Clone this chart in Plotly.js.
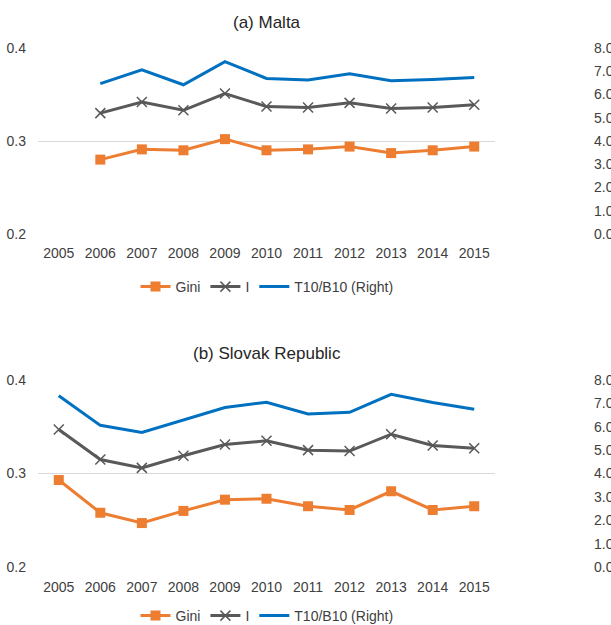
<!DOCTYPE html>
<html>
<head>
<meta charset="utf-8">
<script src="https://cdn.plot.ly/plotly-3.0.1.min.js"></script>
<style>html,body{margin:0;padding:0;background:#fff;}#chart{width:611px;height:625px;}</style>
</head>
<body>
<div id="chart"></div>
<script>
const years = ['2005','2006','2007','2008','2009','2010','2011','2012','2013','2014','2015'];

const maltaGini = [null, 0.280, 0.291, 0.290, 0.302, 0.290, 0.291, 0.294, 0.287, 0.290, 0.294];
const maltaI    = [null, 0.330, 0.342, 0.333, 0.351, 0.337, 0.336, 0.341, 0.335, 0.336, 0.339];
const maltaT10  = [null, 6.47, 7.06, 6.42, 7.41, 6.69, 6.62, 6.89, 6.59, 6.65, 6.73];

const slovakGini = [0.293, 0.258, 0.247, 0.260, 0.272, 0.273, 0.265, 0.261, 0.281, 0.261, 0.265];
const slovakI    = [0.347, 0.315, 0.306, 0.319, 0.331, 0.335, 0.325, 0.324, 0.342, 0.330, 0.327];
const slovakT10  = [7.33, 6.06, 5.76, 6.28, 6.82, 7.05, 6.55, 6.62, 7.39, 7.04, 6.75];

const seriesNames = ['Gini', 'I', 'T10/B10 (Right)'];
const panelTitles = ['(a) Malta', '(b) Slovak Republic'];
const leftTicks = [0.2, 0.3, 0.4];
const rightTicks = [0, 1, 2, 3, 4, 5, 6, 7, 8];

const ORANGE = '#ED7D31', GRAY = '#595959', BLUE = '#0070C0';
const FONT = 'Liberation Sans, Arial, Helvetica, sans-serif';
const TXT = '#404040';

function panel(gini, iv, t10, xa, ya, yb, leg) {
  return [
    {x: years, y: t10, name: seriesNames[2], type: 'scatter', mode: 'lines',
     xaxis: xa, yaxis: yb, legend: leg, line: {color: BLUE, width: 3}, connectgaps: false, legendrank: 3},
    {x: years, y: iv, name: seriesNames[1], type: 'scatter', mode: 'lines+markers',
     xaxis: xa, yaxis: ya, legend: leg, line: {color: GRAY, width: 3},
     marker: {symbol: 'x-thin-open', size: 10, color: GRAY, line: {color: GRAY, width: 1.5}}, legendrank: 2},
    {x: years, y: gini, name: seriesNames[0], type: 'scatter', mode: 'lines+markers',
     xaxis: xa, yaxis: ya, legend: leg, line: {color: ORANGE, width: 3},
     marker: {symbol: 'square', size: 10, color: ORANGE}, legendrank: 1}
  ];
}

const data = [].concat(
  panel(maltaGini, maltaI, maltaT10, 'x', 'y', 'y2', 'legend'),
  panel(slovakGini, slovakI, slovakT10, 'x2', 'y3', 'y4', 'legend2')
);

const H = 625;
const xDom = [0, 457/553];
function fy(px) { return 1 - px / H; }

const xBase = {
  type: 'category', categoryorder: 'array', categoryarray: years, range: [-0.5, 10.5],
  domain: xDom, showgrid: false, zeroline: false, showline: false, ticks: '', automargin: false,
  tickfont: {family: FONT, size: 14, color: TXT}, ticklabelstandoff: 9, fixedrange: true
};
const yLeft = {
  range: [0.2, 0.4], tickvals: leftTicks, tickformat: '.1f', showgrid: true, automargin: false,
  gridcolor: '#D9D9D9', gridwidth: 1, zeroline: false, showline: false, ticks: '',
  tickfont: {family: FONT, size: 14, color: TXT}, ticklabelstandoff: 11, fixedrange: true
};
const yRight = {
  range: [0, 8], tickvals: rightTicks, tickformat: '.1f', showgrid: false, zeroline: false,
  showline: false, ticks: '', side: 'right', anchor: 'free', position: 1, automargin: false,
  tickfont: {family: FONT, size: 14, color: TXT}, ticklabelstandoff: 2, fixedrange: true
};

const legendBase = {
  orientation: 'h', xanchor: 'center', yanchor: 'middle', x: (267-38)/553,
  yref: 'container',
  font: {family: FONT, size: 14, color: TXT}, bgcolor: 'rgba(0,0,0,0)', traceorder: 'normal',
  itemwidth: 30
};

const layout = {
  width: 611, height: 625,
  margin: {l: 38, r: 20, t: 0, b: 0, pad: 0, autoexpand: false},
  paper_bgcolor: '#fff', plot_bgcolor: '#fff',
  showlegend: true,
  font: {family: FONT, color: TXT},
  xaxis: Object.assign({}, xBase, {anchor: 'y'}),
  yaxis: Object.assign({}, yLeft, {domain: [fy(234), fy(48)], anchor: 'x'}),
  yaxis2: Object.assign({}, yRight, {overlaying: 'y'}),
  xaxis2: Object.assign({}, xBase, {anchor: 'y3', ticklabelstandoff: 10}),
  yaxis3: Object.assign({}, yLeft, {domain: [fy(567), fy(380)], anchor: 'x2'}),
  yaxis4: Object.assign({}, yRight, {overlaying: 'y3'}),
  legend: Object.assign({}, legendBase, {y: fy(287)}),
  legend2: Object.assign({}, legendBase, {y: fy(616)}),
  annotations: [
    {text: panelTitles[0], xref: 'paper', yref: 'paper', x: (267-38)/553, y: fy(23),
     xanchor: 'center', yanchor: 'middle', showarrow: false, font: {family: FONT, size: 17, color: '#262626'}},
    {text: panelTitles[1], xref: 'paper', yref: 'paper', x: (267-38)/553, y: fy(353),
     xanchor: 'center', yanchor: 'middle', showarrow: false, font: {family: FONT, size: 17, color: '#262626'}}
  ]
};

Plotly.newPlot('chart', data, layout, {staticPlot: true, displayModeBar: false});
</script>
</body>
</html>
